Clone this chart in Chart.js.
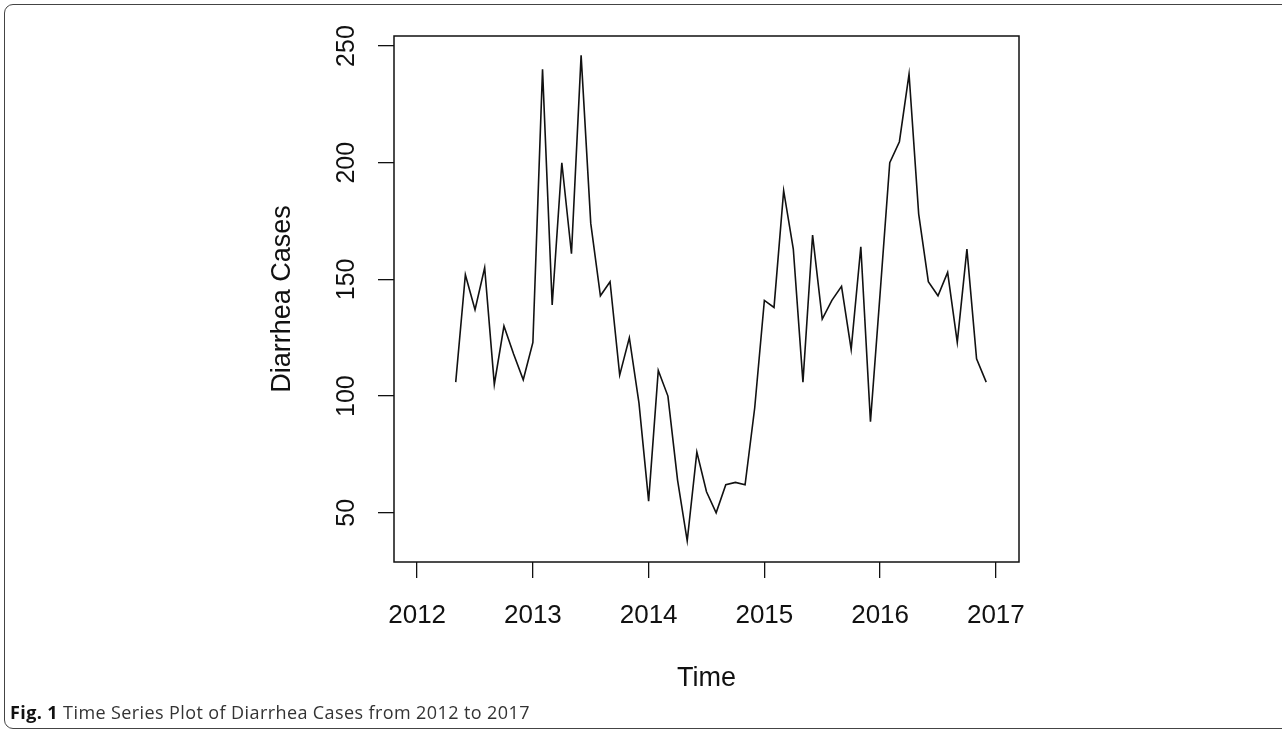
<!DOCTYPE html>
<html lang="en">
<head>
  <meta charset="UTF-8">
  <title>Time Series Plot of Diarrhea Cases</title>
  <script src="https://cdn.jsdelivr.net/npm/chart.js"></script>
  <style>
    body {
      margin: 0;
      background: #fff;
      width: 1282px;
      height: 734px;
      overflow: hidden;
      position: relative;
    }

    .frame {
      position: absolute;
      left: 4px;
      top: 4px;
      width: 1300px;
      height: 725px;
      border: 1.5px solid #444;
      border-radius: 9px;
      box-sizing: border-box;
    }

    .wrap {
      position: absolute;
      left: 0;
      top: 0;
      width: 1282px;
      height: 734px;
    }

    .caption {
      position: absolute;
      left: 10px;
      top: 700px;
      font-family: "Open Sans", sans-serif;
      font-size: 18px;
      letter-spacing: 0.4px;
      color: #333;
      white-space: nowrap;
    }

    .caption b {
      color: #111;
    }
  </style>
</head>
<body>

  <div class="frame"></div>
  <div class="wrap">
    <canvas id="tsChart" width="1282" height="734"></canvas>
  </div>
  <div class="caption"><b>Fig. 1</b> Time Series Plot of Diarrhea Cases from 2012 to 2017</div>

  <script>
  // monthly series, starts May 2012
  const startYear = 2012;
  const startMonth = 5;
  const cases = [
    106, 152, 137, 155, 105, 130, 118, 107,
    123, 240, 139, 200, 161, 246, 174, 143, 149, 109, 125, 97,
    55, 111, 100, 64, 38, 76, 59, 50, 62, 63, 62, 95,
    141, 138, 188, 163, 106, 169, 133, 141, 147, 120, 164, 89,
    144, 200, 209, 238, 178, 149, 143, 153, 123, 163, 116, 106
  ];
  const xTicks = [2012, 2013, 2014, 2015, 2016, 2017];
  const yTicks = [50, 100, 150, 200, 250];

  const points = cases.map((v, i) => ({
    x: startYear + (startMonth - 1 + i) / 12,
    y: v
  }));

  const axisFont = { family: "'Liberation Sans', Arial, sans-serif", size: 26 };
  const titleFont = { family: "'Liberation Sans', Arial, sans-serif", size: 27 };

  // R style box round the plot region
  const boxPlugin = {
    id: "box",
    afterDraw(chart) {
      const a = chart.chartArea;
      const ctx = chart.ctx;
      ctx.save();
      ctx.strokeStyle = "#111";
      ctx.lineWidth = 1.5;
      ctx.strokeRect(a.left, a.top, a.right - a.left, a.bottom - a.top);
      ctx.restore();
    }
  };

  new Chart(document.getElementById("tsChart").getContext("2d"), {
    type: "line",
    data: {
      datasets: [{
        label: "Diarrhea Cases",
        data: points,
        borderColor: "#111",
        borderWidth: 1.6,
        pointRadius: 0,
        tension: 0,
        fill: false
      }]
    },
    options: {
      responsive: false,
      animation: false,
      layout: { padding: { top: 36, right: 263, left: 0, bottom: 0 } },
      plugins: {
        legend: { display: false },
        tooltip: { enabled: false }
      },
      scales: {
        x: {
          type: "linear",
          min: 2011.8,
          max: 2017.2,
          afterBuildTicks: s => { s.ticks = xTicks.map(v => ({ value: v })); },
          afterFit: s => { s.height = 172; },
          border: { display: false },
          grid: { drawOnChartArea: false, drawTicks: true, tickLength: 16, color: "#111", lineWidth: 1.3 },
          ticks: {
            autoSkip: false,
            maxRotation: 0,
            padding: 22,
            color: "#111",
            font: axisFont,
            callback: v => String(v)
          },
          title: {
            display: true,
            text: "Time",
            color: "#111",
            font: titleFont,
            padding: { top: 0, bottom: 39 }
          }
        },
        y: {
          min: 28.9,
          max: 254.3,
          afterBuildTicks: s => { s.ticks = yTicks.map(v => ({ value: v })); },
          afterFit: s => { s.width = 394; },
          border: { display: false },
          grid: { drawOnChartArea: false, drawTicks: true, tickLength: 16, color: "#111", lineWidth: 1.3 },
          ticks: {
            autoSkip: false,
            minRotation: 90,
            maxRotation: 90,
            crossAlign: "center",
            padding: 10,
            color: "#111",
            font: { family: axisFont.family, size: 25 },
            callback: v => String(v)
          },
          title: {
            display: true,
            text: "Diarrhea Cases",
            color: "#111",
            font: titleFont,
            padding: { top: 266, bottom: 0 }
          }
        }
      }
    },
    plugins: [boxPlugin]
  });
</script>
</body>
</html>
